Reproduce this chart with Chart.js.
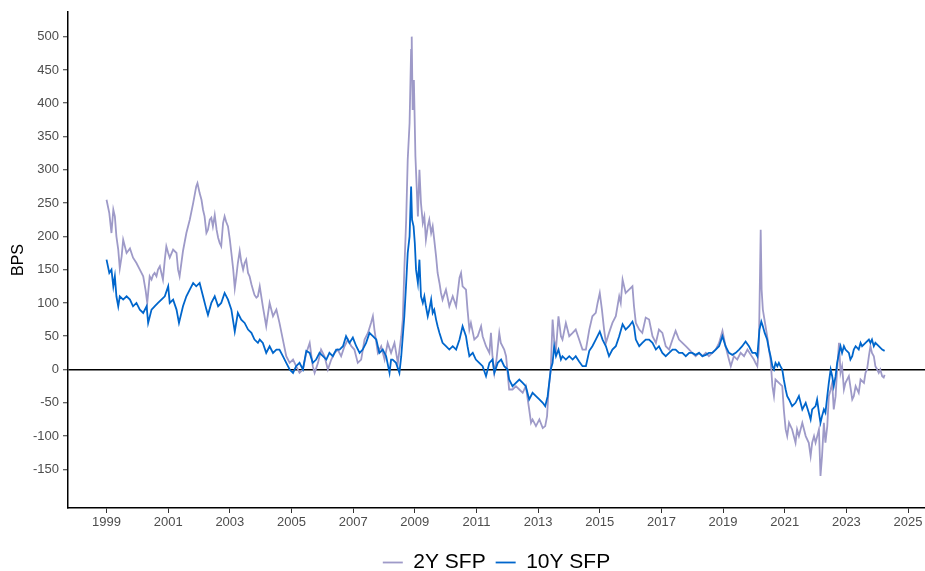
<!DOCTYPE html>
<html>
<head>
<meta charset="utf-8">
<script src="https://cdn.jsdelivr.net/npm/chart.js@4.4.1/dist/chart.umd.min.js"></script>
<style>
  html, body { margin: 0; padding: 0; background: #ffffff; }
  #wrap { width: 925px; height: 571px; }
</style>
</head>
<body>
<div id="wrap"><canvas id="spreads" width="925" height="571"></canvas></div>
<script>
// Swap-futures premium spreads, in basis points (decimal-year dates)
const twoYearDates = [
  1999.00,1999.09,1999.16,1999.22,1999.27,1999.32,1999.38,1999.43,1999.49,1999.54,1999.65,1999.76,1999.86,1999.97,
  2000.08,2000.19,2000.27,2000.32,2000.40,2000.46,2000.51,2000.56,2000.62,2000.67,2000.73,2000.78,2000.83,2000.89,2000.94,
  2001.00,2001.05,2001.16,2001.27,2001.32,2001.37,2001.48,2001.59,2001.70,2001.81,2001.91,2001.95,
  2002.02,2002.08,2002.13,2002.18,2002.24,2002.29,2002.35,2002.40,2002.45,2002.51,2002.57,2002.62,2002.67,2002.72,2002.78,2002.83,2002.88,2002.94,
  2003.00,2003.05,2003.11,2003.16,2003.21,2003.26,2003.32,2003.37,2003.43,2003.48,2003.53,2003.59,2003.64,2003.70,2003.75,2003.80,2003.86,2003.91,2003.97,
  2004.07,2004.18,2004.29,2004.40,2004.51,2004.61,2004.72,2004.83,2004.94,
  2005.05,2005.15,2005.26,2005.37,2005.48,2005.59,2005.69,2005.75,2005.86,2005.96,
  2006.07,2006.18,2006.29,2006.40,2006.50,2006.61,2006.72,2006.83,2006.94,
  2007.04,2007.15,2007.26,2007.37,2007.48,2007.58,2007.64,2007.69,2007.80,2007.91,
  2008.02,2008.12,2008.23,2008.34,2008.45,2008.56,2008.61,2008.66,2008.72,2008.77,2008.83,2008.88,2008.90,2008.93,2008.97,
  2009.02,2009.10,2009.15,2009.20,2009.26,2009.31,2009.36,2009.42,2009.47,2009.53,2009.58,2009.63,2009.69,2009.74,2009.80,2009.85,2009.90,
  2010.01,2010.12,2010.23,2010.34,2010.45,2010.50,2010.55,2010.66,2010.71,2010.77,2010.82,2010.93,
  2011.04,2011.15,2011.20,2011.31,2011.42,2011.47,2011.52,2011.58,2011.65,2011.74,2011.79,2011.90,2011.96,
  2012.06,2012.17,2012.28,2012.39,2012.50,2012.60,2012.71,2012.77,2012.82,2012.93,
  2013.04,2013.15,2013.23,2013.29,2013.34,2013.41,2013.47,2013.52,2013.58,2013.66,2013.74,2013.79,2013.90,
  2014.01,2014.12,2014.22,2014.33,2014.44,2014.55,2014.66,2014.76,2014.87,2014.93,
  2015.00,2015.07,2015.14,2015.20,2015.30,2015.41,2015.52,2015.63,2015.68,2015.74,2015.84,2015.95,
  2016.06,2016.11,2016.17,2016.28,2016.38,2016.49,2016.60,2016.71,2016.82,2016.92,
  2017.03,2017.14,2017.25,2017.36,2017.46,2017.57,2017.68,2017.79,2017.90,
  2018.00,2018.11,2018.22,2018.33,2018.44,2018.54,2018.65,2018.76,2018.87,2018.98,
  2019.08,2019.19,2019.25,2019.35,2019.46,2019.57,2019.68,2019.79,2019.90,
  2020.00,2020.05,2020.11,2020.16,2020.22,2020.25,2020.29,2020.36,2020.43,2020.49,2020.54,2020.60,2020.65,2020.70,2020.81,2020.92,2020.97,
  2021.03,2021.08,2021.14,2021.24,2021.35,2021.40,2021.46,2021.57,2021.68,2021.78,2021.84,2021.89,2021.95,
  2022.00,2022.11,2022.16,2022.21,2022.27,2022.32,2022.38,2022.43,2022.49,2022.54,2022.59,2022.65,2022.70,2022.76,2022.81,2022.86,2022.92,2022.97,
  2023.08,2023.19,2023.24,2023.30,2023.40,2023.46,2023.57,2023.62,2023.67,2023.73,2023.78,2023.83,2023.89,2023.94,
  2024.00,2024.05,2024.10,2024.16,2024.21,2024.24
];
const twoYearBps = [
  255,235,205,240,230,200,180,152,170,195,175,182,168,160,
  150,140,118,100,140,135,142,145,140,150,155,145,135,165,185,
  175,168,180,175,150,140,178,205,225,250,275,280,
  265,255,240,230,205,210,225,228,215,232,210,198,190,185,220,230,222,215,
  195,175,150,122,140,160,178,162,150,160,165,145,140,128,120,112,108,110,125,
  95,65,100,80,90,70,45,20,10,
  15,5,-5,0,25,40,5,-5,10,30,
  20,0,15,25,30,20,35,45,35,
  30,10,15,45,55,70,80,60,25,35,
  15,40,25,40,10,50,75,150,225,315,370,480,500,390,435,
  320,230,300,250,220,230,195,215,225,205,215,195,170,145,130,115,105,
  120,95,110,95,138,145,125,120,90,60,70,45,
  50,65,50,35,25,55,20,-5,15,55,40,30,20,
  -30,-30,-25,-30,-35,-25,-60,-80,-75,-85,
  -75,-88,-85,-70,-30,0,75,45,30,80,50,45,70,
  50,55,60,45,30,30,60,80,85,100,
  115,90,60,40,55,70,80,110,100,135,115,120,
  125,95,70,60,55,78,75,50,40,60,
  55,35,30,45,58,45,40,35,30,
  25,20,25,20,25,20,25,30,40,58,
  35,15,5,20,15,25,20,30,22,
  15,10,5,30,210,120,90,70,50,30,15,-25,-40,-15,-20,-25,-60,
  -90,-100,-80,-90,-110,-90,-100,-80,-100,-110,-130,-110,-100,
  -110,-90,-160,-130,-80,-110,-85,-40,-30,-20,-60,-40,0,40,-5,5,-30,-20,
  -10,-45,-40,-25,-35,-15,-20,-5,0,20,35,25,20,5,
  0,-5,0,-10,-12,-8
];

const tenYearDates = [
  1999.00,1999.09,1999.16,1999.22,1999.27,1999.32,1999.38,1999.43,1999.54,1999.65,1999.76,1999.86,1999.97,
  2000.08,2000.19,2000.30,2000.35,2000.46,2000.56,2000.67,2000.78,2000.89,
  2001.00,2001.05,2001.16,2001.27,2001.35,2001.48,2001.59,2001.70,2001.81,2001.91,
  2002.02,2002.13,2002.24,2002.29,2002.40,2002.51,2002.62,2002.72,2002.83,2002.94,
  2003.05,2003.16,2003.26,2003.37,2003.48,2003.59,2003.70,2003.80,2003.91,2003.97,
  2004.07,2004.18,2004.29,2004.40,2004.51,2004.61,2004.72,2004.83,2004.94,
  2005.05,2005.15,2005.26,2005.37,2005.48,2005.59,2005.69,2005.80,2005.91,
  2006.02,2006.13,2006.23,2006.34,2006.45,2006.56,2006.67,2006.77,2006.88,2006.99,
  2007.10,2007.21,2007.31,2007.42,2007.53,2007.64,2007.75,2007.85,2007.96,
  2008.07,2008.18,2008.23,2008.28,2008.39,2008.50,2008.56,2008.61,2008.66,2008.72,2008.77,2008.83,2008.88,2008.91,2008.96,
  2009.00,2009.04,2009.10,2009.15,2009.20,2009.26,2009.31,2009.36,2009.42,2009.47,2009.53,2009.58,2009.63,2009.69,2009.74,2009.80,2009.90,
  2010.01,2010.12,2010.23,2010.34,2010.45,2010.55,2010.66,2010.71,2010.77,2010.88,2010.98,
  2011.09,2011.20,2011.31,2011.42,2011.52,2011.58,2011.69,2011.80,2011.90,
  2012.01,2012.06,2012.17,2012.28,2012.39,2012.50,2012.60,2012.71,2012.82,2012.93,
  2013.04,2013.15,2013.23,2013.31,2013.36,2013.41,2013.47,2013.52,2013.58,2013.66,2013.74,2013.79,2013.90,
  2014.01,2014.12,2014.22,2014.33,2014.44,2014.55,2014.66,2014.76,2014.87,
  2015.00,2015.09,2015.20,2015.30,2015.41,2015.52,2015.63,2015.74,2015.84,2015.95,
  2016.06,2016.11,2016.17,2016.28,2016.38,2016.49,2016.60,2016.71,2016.82,2016.92,
  2017.03,2017.14,2017.25,2017.36,2017.46,2017.57,2017.68,2017.79,2017.90,
  2018.00,2018.11,2018.22,2018.33,2018.44,2018.54,2018.65,2018.76,2018.87,2018.98,
  2019.08,2019.19,2019.30,2019.41,2019.52,2019.62,2019.73,2019.84,2019.95,
  2020.05,2020.11,2020.18,2020.24,2020.29,2020.35,2020.43,2020.49,2020.54,2020.60,2020.65,2020.70,2020.76,2020.81,2020.86,2020.92,2020.97,
  2021.03,2021.08,2021.14,2021.24,2021.35,2021.46,2021.57,2021.68,2021.78,2021.84,2021.89,
  2022.00,2022.05,2022.11,2022.16,2022.21,2022.27,2022.32,2022.38,2022.43,2022.49,2022.54,2022.59,2022.65,2022.70,2022.76,2022.81,2022.86,2022.92,2022.97,
  2023.08,2023.13,2023.19,2023.24,2023.30,2023.40,2023.46,2023.51,2023.62,2023.73,2023.78,2023.83,2023.89,2023.94,
  2024.05,2024.16,2024.24
];
const tenYearBps = [
  165,145,150,125,140,110,95,110,105,110,105,95,100,
  90,85,95,70,90,95,100,105,110,
  125,100,105,90,70,95,110,120,130,125,
  130,110,90,82,100,110,95,100,115,105,
  90,57,85,75,70,60,55,45,40,45,
  40,25,35,25,30,30,20,10,0,
  -5,5,10,0,28,25,10,15,25,
  20,15,25,20,30,30,35,50,40,48,
  35,25,30,40,55,50,45,25,30,
  20,-5,15,15,10,-5,20,50,80,130,175,200,275,225,215,
  190,150,130,165,110,100,110,95,80,90,105,85,90,75,65,55,40,
  35,30,35,30,45,65,50,35,20,25,15,
  10,5,-10,10,15,-5,10,15,5,
  0,-15,-25,-20,-15,-20,-25,-45,-35,-40,
  -45,-50,-55,-40,-20,0,10,35,20,30,15,20,15,
  20,15,20,12,5,5,28,35,45,
  57,45,35,20,30,35,50,68,60,65,
  72,65,45,35,40,45,45,40,30,35,
  25,20,25,30,30,25,25,20,25,
  25,22,25,20,22,25,25,30,35,50,
  35,25,22,25,30,35,42,35,25,
  25,20,60,72,65,55,45,30,20,5,0,10,5,10,5,0,-15,
  -30,-40,-45,-55,-50,-40,-60,-50,-65,-75,-60,
  -55,-45,-65,-80,-70,-60,-65,-40,-20,0,-10,-25,-10,10,25,35,25,35,30,
  25,15,20,30,35,30,40,35,40,45,40,45,35,40,
  35,30,28
];

const seriesNames = ['2Y SFP', '10Y SFP'];
const yearTicks = [1999, 2001, 2003, 2005, 2007, 2009, 2011, 2013, 2015, 2017, 2019, 2021, 2023, 2025];
const bpsTicks = [-150, -100, -50, 0, 50, 100, 150, 200, 250, 300, 350, 400, 450, 500];

const toPoints = (dates, values) => dates.map((d, i) => ({ x: d, y: values[i] }));
const FONT = '"Liberation Sans", Arial, sans-serif';

new Chart(document.getElementById('spreads'), {
  type: 'line',
  data: {
    datasets: [
      {
        label: seriesNames[0],
        data: toPoints(twoYearDates, twoYearBps),
        borderColor: '#9e9ac8',
        backgroundColor: '#9e9ac8',
        borderWidth: 1.8,
        pointRadius: 0,
        pointStyle: 'line',
        tension: 0,
        order: 2
      },
      {
        label: seriesNames[1],
        data: toPoints(tenYearDates, tenYearBps),
        borderColor: '#0066cc',
        backgroundColor: '#0066cc',
        borderWidth: 1.8,
        pointRadius: 0,
        pointStyle: 'line',
        tension: 0,
        order: 1
      }
    ]
  },
  options: {
    responsive: false,
    animation: false,
    layout: { padding: { top: 12, right: 0, bottom: -12, left: 0 } },
    scales: {
      x: {
        type: 'linear',
        min: 1997.75,
        max: 2025.55,
        afterBuildTicks: s => { s.ticks = yearTicks.map(v => ({ value: v })); },
        afterFit: s => { s.height = 34; },
        ticks: {
          callback: v => String(v),
          color: '#4d4d4d',
          font: { family: FONT, size: 13 },
          padding: 2,
          maxRotation: 0,
          autoSkip: false
        },
        grid: { drawOnChartArea: false, drawTicks: true, tickLength: 5, tickColor: '#333333', tickWidth: 1 },
        border: { display: true, color: '#000000', width: 1.5 }
      },
      y: {
        min: -208,
        max: 537,
        afterBuildTicks: s => { s.ticks = bpsTicks.map(v => ({ value: v })); },
        afterFit: s => { s.width = 68; },
        ticks: {
          color: '#4d4d4d',
          font: { family: FONT, size: 13 },
          padding: 4,
          autoSkip: false
        },
        grid: {
          drawOnChartArea: true,
          color: c => (c.tick && c.tick.value === 0 ? '#000000' : 'rgba(0,0,0,0)'),
          lineWidth: 1.5,
          tickLength: 5,
          tickColor: '#333333',
          tickWidth: 1
        },
        border: { display: true, color: '#000000', width: 1.5 },
        title: {
          display: true,
          text: 'BPS',
          color: '#000000',
          font: { family: FONT, size: 16 },
          padding: { top: 9, bottom: 0 }
        }
      }
    },
    plugins: {
      legend: {
        position: 'bottom',
        fullSize: false,
        labels: {
          usePointStyle: true,
          pointStyleWidth: 20,
          boxHeight: 2,
          color: '#000000',
          font: { family: FONT, size: 21 },
          padding: 10,
          sort: (a, b) => a.datasetIndex - b.datasetIndex
        }
      },
      tooltip: { enabled: false }
    }
  }
});
</script>
</body>
</html>
